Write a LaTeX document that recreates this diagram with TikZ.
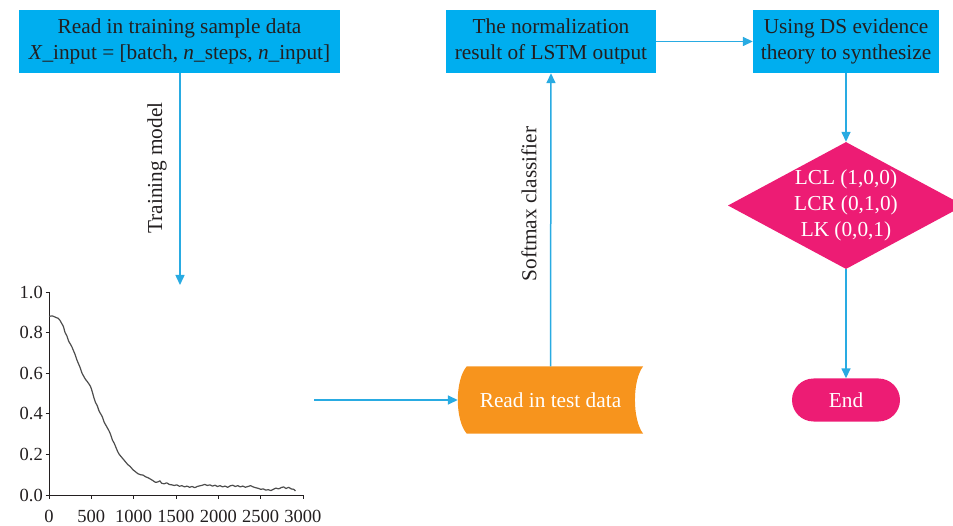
\documentclass[tikz,border=0pt]{standalone}
\usepackage{fontspec}
\setmainfont{Liberation Serif}
\usetikzlibrary{arrows.meta,shapes.geometric,shapes.misc,calc}
\definecolor{boxcyan}{HTML}{00AEEF}
\definecolor{linecyan}{HTML}{29ABE2}
\definecolor{txtdark}{HTML}{231F20}
\definecolor{magent}{HTML}{ED1C74}
\definecolor{orng}{HTML}{F7941D}
\definecolor{curvegray}{HTML}{4D4D4D}
\begin{document}
\begin{tikzpicture}[x=1pt,y=-1pt,
  every node/.style={font=\fontsize{21.3}{26}\selectfont, text=txtdark},
  bluebox/.style={rectangle, fill=boxcyan, minimum height=63pt, inner sep=0pt, align=center},
  conn/.style={draw=linecyan, line width=1.5pt, -{Triangle[length=10pt,width=9pt]}},
  lbl/.style={rotate=90},
  ticklbl/.style={font=\fontsize{18.5}{20}\selectfont, inner sep=0pt},
  axisline/.style={draw=txtdark, line width=0.9pt}
]
\useasboundingbox (0,0) rectangle (953,526);

% top boxes
\node[bluebox, minimum width=321pt] (b1) at (179.5,41.5) {Read in training sample data\\\textit{X}\_input = [batch, \textit{n}\_steps, \textit{n}\_input]};
\node[bluebox, minimum width=210pt] (b2) at (551,41.5) {The normalization\\result of LSTM output};
\node[bluebox, minimum width=186pt] (b3) at (846,41.5) {Using DS evidence\\theory to synthesize};

% diamond
\node[diamond, fill=magent, text=white, inner sep=0pt, aspect=1.86, minimum width=236pt, minimum height=127pt, align=center] (dia) at (846,205.5) {LCL (1,0,0)\\LCR (0,1,0)\\LK (0,0,1)};

% end
\node[rounded rectangle, fill=magent, text=white, minimum width=108pt, minimum height=43pt, inner sep=0pt] (end) at (846,400) {End};

% orange read in test data
\node[minimum width=185pt, minimum height=67pt, inner sep=0pt] (test) at (550.5,400) {};
\fill[orng] ($(test.north west)+(9,0)$) .. controls ($(test.west)+(-3,-20)$) and ($(test.west)+(-3,20)$) .. ($(test.south west)+(9,0)$)
  -- (test.south east) .. controls ($(test.east)+(-11,20)$) and ($(test.east)+(-11,-20)$) .. (test.north east) -- cycle;
\node[text=white] (testtxt) at (test.center) {Read in test data};

% connectors
\coordinate (trainend) at (180,285);
\coordinate (plotend) at (314,400);
\draw[conn] (b1.south -| trainend) -- (trainend);
\draw[conn] (plotend) -- (test.west);
\draw[conn] (test.north) -- (b2.south);
\draw[conn] (b2.east) -- (b3.west);
\draw[conn] (b3.south) -- (dia.north);
\draw[conn] (dia.south) -- (end.north);

% rotated labels
\node[lbl] (lbltrain) at (157,168) {Training model};
\node[lbl] (lblsoft) at (529,204) {Softmax classifier};

% plot
\draw[axisline] (49,292) -- (49,495) -- (303,495);
\foreach \v/\t in {0/0.0,1/0.2,2/0.4,3/0.6,4/0.8,5/1.0}{
  \draw[axisline] (45.5,495-40.6*\v) -- (49,495-40.6*\v);
  \node[ticklbl, anchor=east] at (43,495-40.6*\v) {\t};
}
\foreach \k/\t in {0/0,1/500,2/1000,3/1500,4/2000,5/2500,6/3000}{
  \draw[axisline] (49+42.33*\k,495) -- (49+42.33*\k,499);
  \node[ticklbl] at (49+42.33*\k,516) {\t};
}
\begin{scope}[shift={(49,495)}, x=0.08467pt, y=203pt]
\draw[curvegray, line width=1.2pt, line join=round] plot[smooth, tension=0.3] coordinates {
(0,0.88) (40,0.882) (80,0.875) (110,0.87) (130,0.86) (150,0.845) (170,0.83) (190,0.80) (210,0.785) (230,0.76) (250,0.745) (270,0.73) (290,0.71) (310,0.69) (330,0.665) (350,0.645) (370,0.625) (390,0.60) (410,0.585) (430,0.57) (450,0.56) (470,0.548) (490,0.535) (510,0.51) (530,0.48) (550,0.455) (570,0.44) (590,0.415) (610,0.40) (630,0.385) (650,0.36) (670,0.345) (690,0.33) (710,0.315) (730,0.295) (750,0.27) (770,0.255) (790,0.235) (810,0.215) (830,0.2) (850,0.19) (870,0.18) (890,0.17) (910,0.16) (930,0.15) (960,0.14) (990,0.125) (1020,0.115) (1050,0.105) (1080,0.10) (1110,0.098) (1140,0.09) (1170,0.085) (1200,0.078) (1230,0.07) (1260,0.062) (1290,0.065) (1310,0.07) (1330,0.058) (1360,0.055) (1390,0.06) (1420,0.052) (1450,0.05) (1480,0.047) (1510,0.05) (1540,0.043) (1570,0.046) (1600,0.04) (1630,0.044) (1660,0.038) (1690,0.042) (1720,0.036) (1750,0.042) (1780,0.045) (1810,0.048) (1840,0.052) (1870,0.047) (1900,0.05) (1930,0.044) (1960,0.048) (1990,0.042) (2020,0.046) (2050,0.04) (2080,0.044) (2110,0.038) (2140,0.045) (2170,0.048) (2200,0.042) (2230,0.046) (2260,0.04) (2290,0.044) (2320,0.038) (2350,0.042) (2380,0.046) (2410,0.04) (2440,0.036) (2470,0.033) (2500,0.028) (2530,0.03) (2560,0.024) (2590,0.026) (2620,0.022) (2650,0.028) (2680,0.034) (2710,0.03) (2740,0.036) (2770,0.04) (2800,0.032) (2830,0.038) (2860,0.03) (2890,0.028) (2910,0.02)};
\end{scope}
\end{tikzpicture}
\end{document}
